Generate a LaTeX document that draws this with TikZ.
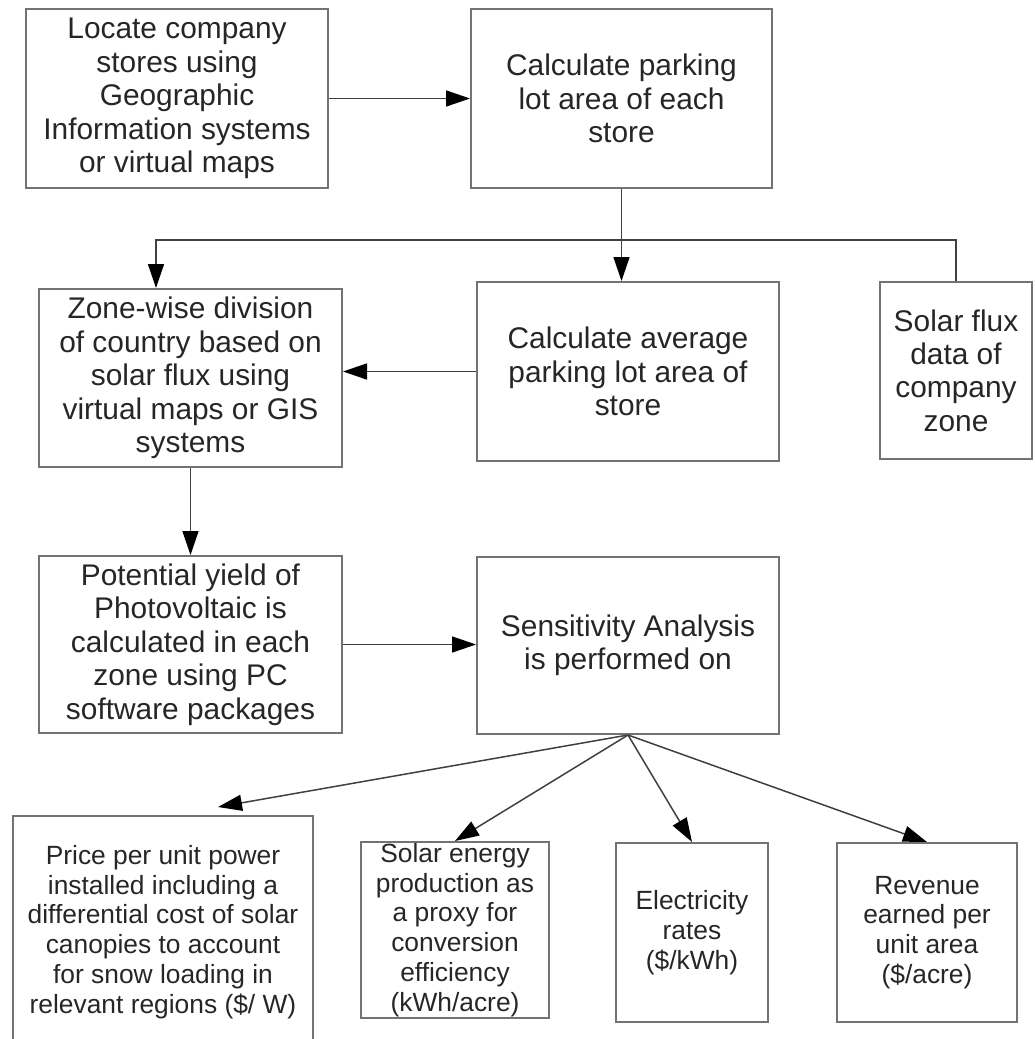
\documentclass[tikz,border=0pt]{standalone}
\usepackage{fontspec}
\setmainfont{Liberation Sans}
\usetikzlibrary{arrows.meta}
\newcommand{\bigtxt}{\fontsize{17pt}{19pt}\selectfont}
\newcommand{\smalltxt}{\fontsize{15pt}{17pt}\selectfont}
\tikzset{
	box/.style={draw=black!55, line width=0.4mm, text=black!85, align=center, inner sep=0pt, font=\bigtxt},
	lowbox/.style={box, font=\smalltxt},
	arr/.style={draw=black!75, line width=0.3mm, -{Triangle[length=4.8mm,width=3.2mm,color=black]}},
}

\begin{document}
\begin{tikzpicture}[x=0.2mm, y=-0.2mm]
	\useasboundingbox (0,0) rectangle (1035,1039);
	\clip (0,0) rectangle (1035,1039);

	\node [box, minimum width=60.4mm, minimum height=35.8mm] (loc) at (177,98.5)
		{Locate company\\stores using\\Geographic\\Information systems\\or virtual maps};
	\node [box, minimum width=60.2mm, minimum height=35.8mm] (park) at (621.5,98.5)
		{Calculate parking\\lot area of each\\store};
	\node [box, minimum width=60.6mm, minimum height=35.6mm] (zone) at (190.5,378)
		{Zone-wise division\\of country based on\\solar flux using\\virtual maps or GIS\\systems};
	\node [box, minimum width=60.4mm, minimum height=35.8mm] (avg) at (628,371.5)
		{Calculate average\\parking lot area of\\store};
	\node [box, minimum width=30.4mm, minimum height=35.4mm] (flux) at (956,370.5)
		{Solar flux\\data of\\company\\zone};
	\node [box, minimum width=60.6mm, minimum height=35.4mm] (yield) at (190.5,644.5)
		{Potential yield of\\Photovoltaic is\\calculated in each\\zone using PC\\software packages};
	\node [box, minimum width=60.4mm, minimum height=35.4mm] (sens) at (628,645.5)
		{Sensitivity Analysis\\is performed on};

	\node [lowbox, minimum width=60mm, minimum height=46.4mm] (price) at (163,932)
		{Price per unit power\\installed including a\\differential cost of solar\\canopies to account\\for snow loading in\\relevant regions (\$/ W)};
	\node [lowbox, minimum width=37.6mm, minimum height=35.2mm] (energy) at (455,930)
		{Solar energy\\production as\\a proxy for\\conversion\\efficiency\\(kWh/acre)};
	\node [lowbox, minimum width=30.4mm, minimum height=35.8mm] (rates) at (692,932.5)
		{Electricity\\rates\\(\$/kWh)};
	\node [lowbox, minimum width=36mm, minimum height=35.8mm] (revenue) at (927,932.5)
		{Revenue\\earned per\\unit area\\(\$/acre)};

	\draw [arr] (loc) -- (park);
	\draw [arr] (park.south) -- (park.south |- avg.north);
	\draw [arr] (flux.north) -- ++(0,-41) -| ([xshift=23.6mm]zone.north west);
	\draw [arr] (avg.west) -- (avg.west -| zone.east);
	\draw [arr] (zone) -- (yield);
	\draw [arr] (yield.east) -- (yield.east -| sens.west);

	\draw [arr] (sens.south) -- ([xshift=11mm,yshift=1.6mm]price.north);
	\foreach \t in {energy,rates,revenue}
		\draw [arr] (sens.south) -- (\t.north);
\end{tikzpicture}
\end{document}
